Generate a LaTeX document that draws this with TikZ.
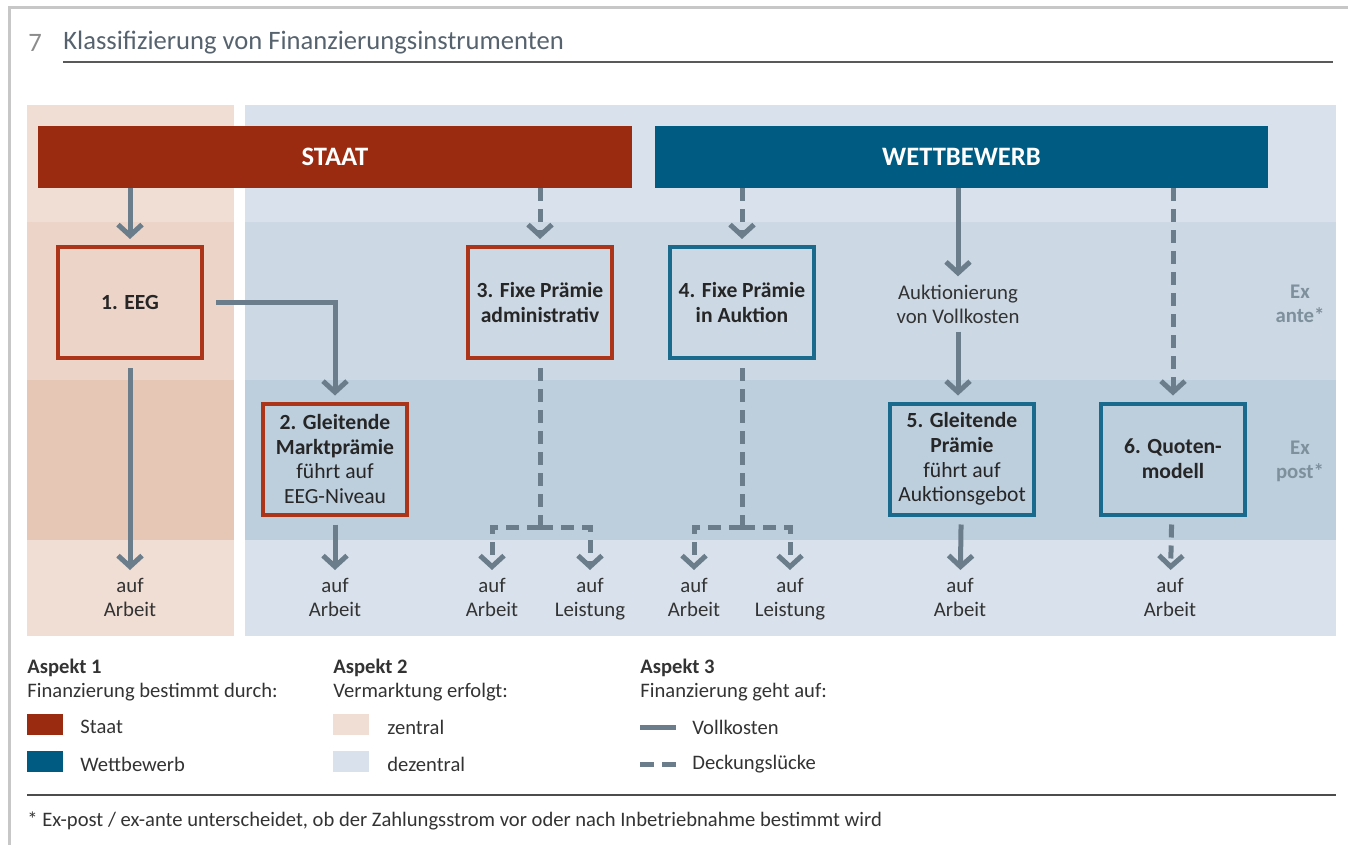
\documentclass[tikz,border=0pt]{standalone}
\usepackage{fontspec}
\setmainfont{Carlito}
\usetikzlibrary{arrows.meta, positioning, calc}
\definecolor{staatred}{HTML}{9B2B10}
\definecolor{wettblue}{HTML}{005B82}
\definecolor{redframe}{HTML}{AC3519}
\definecolor{blueframe}{HTML}{1A6A8E}
\definecolor{flowgray}{HTML}{6B7D8A}
\definecolor{pinklight}{HTML}{F0DDD4}
\definecolor{pinkmid}{HTML}{ECD4C8}
\definecolor{pinkdark}{HTML}{E6C6B5}
\definecolor{bluelight}{HTML}{D9E2EC}
\definecolor{bluemid}{HTML}{CCD8E4}
\definecolor{bluedark}{HTML}{BDCEDD}
\definecolor{textgray}{HTML}{333333}
\definecolor{exgray}{HTML}{7F909D}
\definecolor{titlegray}{HTML}{56636E}
\tikzset{
   bar/.style={
     minimum height=31pt, inner sep=0pt, text=white,
     font=\fontsize{13.3}{15}\selectfont\bfseries
   },
   staatbar/.style={
      bar, fill=staatred, minimum width=297pt
   },
   wettbar/.style={
      bar, fill=wettblue, minimum width=306.5pt
   },
   instrument/.style={
      line width=2pt, minimum width=72pt, minimum height=55.5pt,
      inner sep=2pt, align=center, text=black!85,
      font=\fontsize{10.8}{12.4}\selectfont
   },
   staatnode/.style={
      instrument,
      draw=redframe
   },
   wettnode/.style={
      instrument,
      draw=blueframe
   },
   textnode/.style={align=center, inner sep=1pt, text=textgray,
      font=\fontsize{10.4}{12}\selectfont},
   target/.style={textnode, anchor=north},
   exlabel/.style={align=center, inner sep=0pt, text=exgray,
      font=\fontsize{10.4}{12}\selectfont\bfseries},
   legtext/.style={anchor=west, inner sep=0pt, text=textgray,
      font=\fontsize{10.3}{12}\selectfont},
   swatch/.style={minimum width=18pt, minimum height=10.5pt, inner sep=0pt},
   fullcost/.style={line width=2.5pt, draw=flowgray,
      -{Straight Barb[length=5.5pt,width=12pt]}, shorten >=3pt},
   gapcost/.style={fullcost, dash pattern=on 6.5pt off 4pt},
   gapline/.style={line width=2.5pt, draw=flowgray, dash pattern=on 6.5pt off 4pt}
}
\begin{document}
\begin{tikzpicture}[x=0.5pt, y=-0.5pt]
      \useasboundingbox (0,0) rectangle (1348,845);
      % frame and title
      \draw[line width=1.5pt, black!22] (9,845) -- (9,8) -- (1348,8);
      \node[anchor=west, inner sep=0pt, text=black!45, font=\fontsize{13.3}{15}\selectfont] (num) at (28,43) {7};
      \node[anchor=west, inner sep=0pt, text=titlegray, font=\fontsize{13.3}{15}\selectfont] (title) at (63,43) {Klassifizierung von Finanzierungsinstrumenten};
      \draw[line width=1pt, black!65] (63,62) -- (1333,62);

      % background bands
      \fill[pinklight] (27,105) rectangle (234,636);
      \fill[pinkmid] (27,222) rectangle (234,380);
      \fill[pinkdark] (27,380) rectangle (234,540);
      \fill[bluelight] (245,105) rectangle (1336,636);
      \fill[bluemid] (245,222) rectangle (1336,380);
      \fill[bluedark] (245,380) rectangle (1336,540);

      % deciders
      \node[staatbar] (staat) at (335,157) {STAAT};
      \node[wettbar] (wett) at (961.5,157) {WETTBEWERB};

      % instruments
      \node[staatnode] (eeg) at (130,302.5) {\textbf{1. EEG}};
      \node[staatnode] (gleit) at (335,459) {\textbf{2. Gleitende}\\ \textbf{Marktprämie}\\ führt auf\\ EEG-Niveau};
      \node[staatnode] (fixadm) at (540,302.5) {\textbf{3. Fixe Prämie}\\ \textbf{administrativ}};
      \node[wettnode] (fixauk) at (742,302.5) {\textbf{4. Fixe Prämie}\\ \textbf{in Auktion}};
      \node[wettnode] (gleitauk) at (962,459) {\textbf{5. Gleitende}\\ \textbf{Prämie}\\ führt auf\\ Auktionsgebot};
      \node[wettnode] (quote) at (1173,459) {\textbf{6. Quoten-}\\ \textbf{modell}};
      \node[textnode] (vollk) at (958,304) {Auktionierung\\ von Vollkosten};

      % targets
      \node[target] (arb1) at (130,576) {auf\\ Arbeit};
      \node[target] (arb2) at (335,576) {auf\\ Arbeit};
      \node[target] (arb3) at (492,576) {auf\\ Arbeit};
      \node[target] (leist3) at (590,576) {auf\\ Leistung};
      \node[target] (arb4) at (694,576) {auf\\ Arbeit};
      \node[target] (leist4) at (790,576) {auf\\ Leistung};
      \node[target] (arb5) at (960,576) {auf\\ Arbeit};
      \node[target] (arb6) at (1170,576) {auf\\ Arbeit};

      \node[exlabel] (ante) at (1300,304) {Ex\\ ante*};
      \node[exlabel] (post) at (1300,461) {Ex\\ post*};

      % flows
      \draw[fullcost] (staat.south -| eeg) -- (eeg);
      \draw[fullcost, shorten <=6pt] (eeg.east) -| (gleit.north);
      \draw[fullcost, shorten <=4pt] (eeg) -- (arb1);
      \draw[fullcost, shorten <=4pt] (gleit) -- (arb2);
      \draw[gapcost] (staat.south -| fixadm) -- (fixadm);
      \coordinate (split3) at (540,527);
      \draw[gapline, shorten <=4pt] (fixadm) -- (split3);
      \draw[gapcost] (split3) -| (arb3);
      \draw[gapcost] (split3) -| (leist3);
      \draw[gapcost] (wett.south -| fixauk) -- (fixauk);
      \coordinate (split4) at (742,527);
      \draw[gapline, shorten <=4pt] (fixauk) -- (split4);
      \draw[gapcost] (split4) -| (arb4);
      \draw[gapcost] (split4) -| (leist4);
      \draw[fullcost] (wett.south -| vollk) -- (vollk);
      \draw[fullcost, shorten <=3pt] (vollk) -- (vollk |- gleitauk.north);
      \draw[fullcost, shorten <=4pt] (gleitauk) -- (arb5);
      \draw[gapcost] (wett.south -| quote) -- (quote);
      \draw[gapcost, shorten <=4pt] (quote) -- (arb6);

      % legend
      \node[legtext, font=\fontsize{10.3}{12}\selectfont\bfseries] (asp1) at (27,668) {Aspekt 1};
      \node[legtext] (asp1t) at (27,692) {Finanzierung bestimmt durch:};
      \node[swatch, fill=staatred] (sw1) at (45,724) {};
      \node[legtext] at (80,727) {Staat};
      \node[swatch, fill=wettblue] (sw2) at (45,761) {};
      \node[legtext] at (80,764) {Wettbewerb};

      \node[legtext, font=\fontsize{10.3}{12}\selectfont\bfseries] (asp2) at (333,668) {Aspekt 2};
      \node[legtext] (asp2t) at (333,692) {Vermarktung erfolgt:};
      \node[swatch, fill=pinklight] (sw3) at (351,724) {};
      \node[legtext] at (387,727) {zentral};
      \node[swatch, fill=bluelight] (sw4) at (351,761) {};
      \node[legtext] at (387,764) {dezentral};

      \node[legtext, font=\fontsize{10.3}{12}\selectfont\bfseries] (asp3) at (640,668) {Aspekt 3};
      \node[legtext] (asp3t) at (640,692) {Finanzierung geht auf:};
      \draw[line width=2.5pt, flowgray] (640,727) -- (676,727);
      \node[legtext] at (692,727) {Vollkosten};
      \draw[line width=2.5pt, flowgray, dash pattern=on 7pt off 4pt] (640,764) -- (676,764);
      \node[legtext] at (692,764) {Deckungslücke};

      % footnote
      \draw[line width=1pt, black!70] (27,795) -- (1336,795);
      \node[legtext] (note) at (27,821) {* Ex-post / ex-ante unterscheidet, ob der Zahlungsstrom vor oder nach Inbetriebnahme bestimmt wird};
   \end{tikzpicture}
\end{document}
